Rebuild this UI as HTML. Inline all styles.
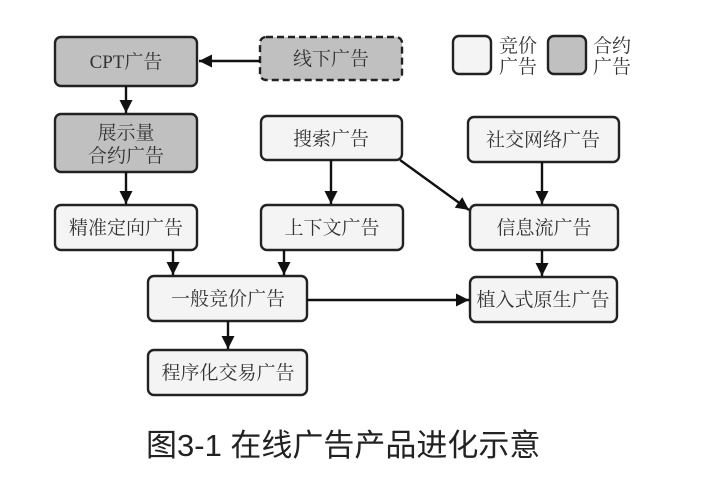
<!DOCTYPE html>
<html><head><meta charset="utf-8"><style>
html,body{margin:0;padding:0;background:#fff;width:720px;height:492px;overflow:hidden}
svg text{font-family:"Liberation Serif","Noto Serif CJK SC",serif;font-size:19px;fill:#333}
</style></head><body>
<svg width="720" height="492" viewBox="0 0 720 492" xmlns="http://www.w3.org/2000/svg">
<defs><marker id="a" markerWidth="14" markerHeight="14" refX="13" refY="6.5" orient="auto" markerUnits="userSpaceOnUse"><path d="M0,0 L13,6.5 L0,13 z" fill="#111"/></marker></defs>
<g stroke="#222" stroke-width="2.4">
<rect x="55" y="37" width="142" height="49" rx="6" fill="#c0c0c0"/>
<rect x="260" y="37" width="142" height="43" rx="6" fill="#c0c0c0" stroke-dasharray="7,4"/>
<rect x="55" y="114" width="142" height="58" rx="6" fill="#c0c0c0"/>
<rect x="55" y="205" width="142" height="45" rx="6" fill="#f4f4f4"/>
<rect x="261" y="116" width="141" height="44" rx="6" fill="#f4f4f4"/>
<rect x="261" y="205" width="142" height="45" rx="6" fill="#f4f4f4"/>
<rect x="468" y="117" width="151" height="45" rx="6" fill="#f4f4f4"/>
<rect x="470" y="205" width="148" height="45" rx="6" fill="#f4f4f4"/>
<rect x="470" y="277" width="147" height="45" rx="6" fill="#f4f4f4"/>
<rect x="148" y="276" width="159" height="45" rx="6" fill="#f4f4f4"/>
<rect x="148" y="350" width="159" height="45" rx="6" fill="#f4f4f4"/>
<rect x="453" y="36" width="38" height="38" rx="6" fill="#f4f4f4"/>
<rect x="548" y="36" width="38" height="38" rx="6" fill="#c0c0c0"/>
</g>
<g stroke="#111" stroke-width="2.4" fill="none" marker-end="url(#a)">
<line x1="260" y1="61" x2="199" y2="61"/>
<line x1="126" y1="86" x2="126" y2="113"/>
<line x1="126" y1="172" x2="126" y2="204"/>
<line x1="331" y1="160" x2="331" y2="204"/>
<line x1="542" y1="162" x2="542" y2="204"/>
<line x1="542" y1="250" x2="542" y2="276"/>
<line x1="400" y1="160" x2="469" y2="210"/>
<line x1="307" y1="300" x2="469" y2="300"/>
<line x1="173" y1="250" x2="173" y2="275"/>
<line x1="284" y1="250" x2="284" y2="275"/>
<line x1="228" y1="321" x2="228" y2="349"/>
</g>
<g text-anchor="middle">
<text x="126" y="68">CPT广告</text>
<text x="331" y="65">线下广告</text>
<text x="126" y="139">展示量</text>
<text x="126" y="162">合约广告</text>
<text x="126" y="234">精准定向广告</text>
<text x="331" y="145">搜索广告</text>
<text x="332" y="234">上下文广告</text>
<text x="543" y="146">社交网络广告</text>
<text x="544" y="234">信息流广告</text>
<text x="543" y="306">植入式原生广告</text>
<text x="228" y="305">一般竞价广告</text>
<text x="228" y="379">程序化交易广告</text>
</g>
<text x="499" y="52">竞价</text><text x="499" y="73">广告</text>
<text x="593" y="52">合约</text><text x="593" y="73">广告</text>
<text x="146" y="456" style="font-family:'Liberation Sans','Noto Sans CJK SC',sans-serif;font-size:31px;fill:#222">图3-1 在线广告产品进化示意</text>
</svg>
</body></html>
